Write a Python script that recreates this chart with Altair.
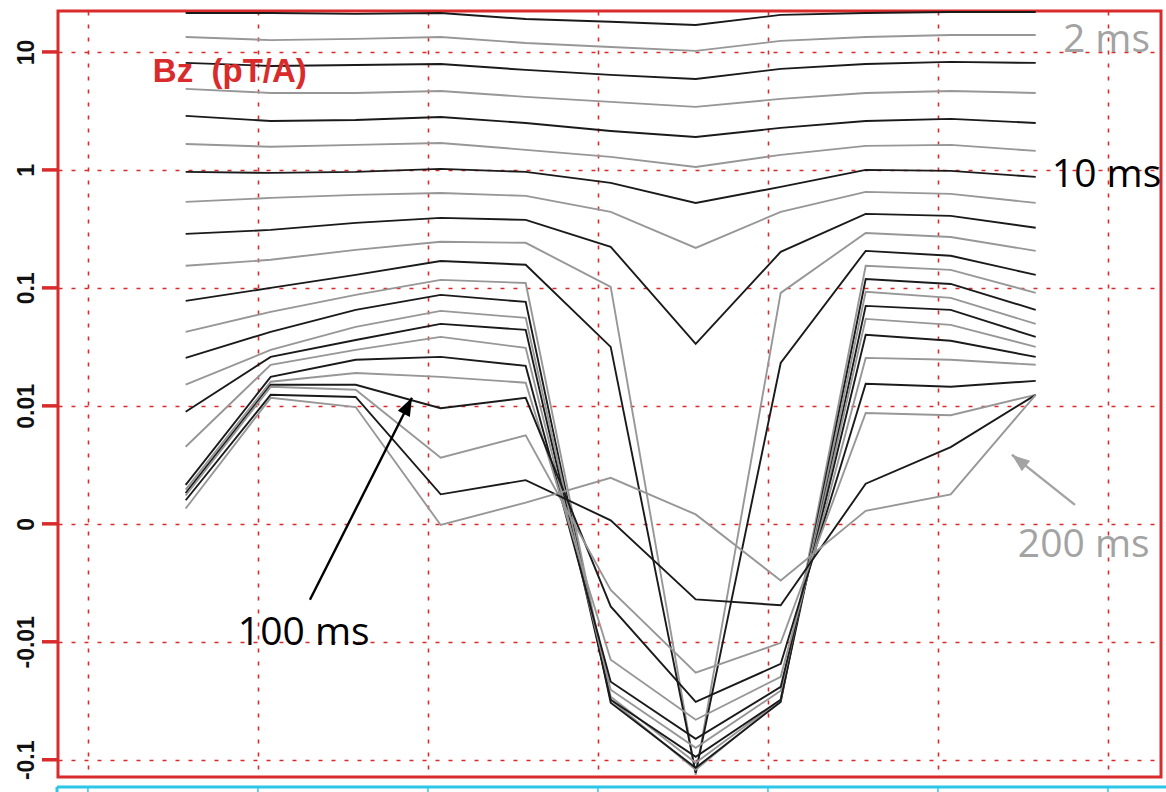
import altair as alt
import pandas as pd

# ---------------- data (Bz in pT/A) ----------------
stations_m = [57.5, 107.5, 157.5, 207.5, 257.5, 307.5, 357.5, 407.5, 457.5, 507.5, 557.5]
grid_x_m = [0, 100, 200, 300, 400, 500, 600]

bz_01 = [21.4, 21.4, 21.0, 21.4, 19.0, 18.0, 16.9, 20.6, 21.4, 21.8, 21.8]
bz_02 = [13.4, 12.6, 12.9, 13.4, 11.9, 11.0, 10.2, 12.4, 13.4, 13.9, 13.9]
bz_03 = [8.07, 7.61, 7.76, 7.91, 7.04, 6.39, 5.90, 7.18, 7.91, 8.23, 8.07]
bz_04 = [4.86, 4.49, 4.49, 4.67, 4.16, 3.77, 3.42, 4.00, 4.49, 4.67, 4.49]
bz_05 = [2.87, 2.60, 2.65, 2.81, 2.50, 2.14, 1.90, 2.27, 2.60, 2.71, 2.50]
bz_06 = [1.66, 1.57, 1.63, 1.69, 1.48, 1.29, 1.06, 1.34, 1.60, 1.63, 1.45]
bz_07 = [0.962, 0.943, 0.962, 1.02, 0.962, 0.776, 0.525, 0.718, 1.0, 0.981, 0.872]
bz_08 = [0.536, 0.579, 0.614, 0.638, 0.602, 0.441, 0.218, 0.441, 0.651, 0.626, 0.525]
bz_09 = [0.287, 0.310, 0.356, 0.392, 0.377, 0.223, 0.0335, 0.202, 0.424, 0.408, 0.323]
bz_10 = [0.154, 0.173, 0.210, 0.246, 0.241, 0.102, -0.134, 0.0907, 0.292, 0.270, 0.206]
bz_11 = [0.0776, 0.100, 0.129, 0.169, 0.157, 0.0316, -0.129, 0.0231, 0.206, 0.187, 0.129]
bz_12 = [0.0424, 0.0626, 0.0872, 0.117, 0.110, -0.0310, -0.1215, -0.0310, 0.154, 0.142, 0.0907]
bz_13 = [0.0255, 0.0424, 0.0651, 0.0872, 0.0761, -0.0329, -0.117, -0.0323, 0.119, 0.108, 0.0651]
bz_14 = [0.0151, 0.0298, 0.0467, 0.0638, 0.0557, -0.0292, -0.106, -0.0310, 0.0925, 0.0823, 0.0495]
bz_15 = [0.0095, 0.0260, 0.0362, 0.0495, 0.0441, -0.0310, -0.0943, -0.0310, 0.0704, 0.0651, 0.0384]
bz_16 = [0.00653, 0.0223, 0.0298, 0.0384, 0.0310, -0.0255, -0.0791, -0.0260, 0.0546, 0.0486, 0.0316]
bz_17 = [0.0033, 0.0176, 0.0246, 0.0260, 0.0218, -0.0218, -0.0664, -0.0241, 0.0400, 0.0356, 0.0260]
bz_18 = [0.0029, 0.0160, 0.0190, 0.0176, 0.0157, -0.0142, -0.0458, -0.0198, 0.0255, 0.0246, 0.0223]
bz_19 = [0.0026, 0.0151, 0.0151, 0.0098, 0.0117, -0.0070, -0.0323, -0.0154, 0.0154, 0.0145, 0.0163]
bz_20 = [0.0024, 0.0145, 0.0137, 0.0056, 0.0075, -0.0056, -0.0183, -0.0102, 0.0094, 0.0092, 0.0124]
bz_21 = [0.0020, 0.0124, 0.0119, 0.0025, 0.0037, 0.0003, -0.0064, -0.0069, 0.0034, 0.0065, 0.0124]
bz_22 = [0.0013, 0.0117, 0.0099, -0.0001, 0.0018, 0.0039, 0.0008, -0.0048, 0.0011, 0.0025, 0.0124]

profiles = [bz_01, bz_02, bz_03, bz_04, bz_05, bz_06, bz_07, bz_08, bz_09, bz_10, bz_11,
            bz_12, bz_13, bz_14, bz_15, bz_16, bz_17, bz_18, bz_19, bz_20, bz_21, bz_22]
shades = ["#1a1a1a", "#979797"]

tick_values = [-2, -1, 0, 1, 2, 3, 4]
tick_labels = ["-0.1", "-0.01", "0", "0.01", "0.1", "1", "10"]

ann_text = ["2 ms", "10 ms", "200 ms", "100 ms"]
ann_x = [573.5, 567.0, 547.0, 88.2]
ann_bz = [10.0, 0.718, -0.0028, -0.0106]
ann_color = ["#a3a3a3", "#000000", "#a3a3a3", "#000000"]

arrow_x_tail = [130.6, 580.6]
arrow_bz_tail = [-0.00644, 0.00161]
arrow_x_tip = [190.6, 543.5]
arrow_bz_tip = [0.0117, 0.00585]
arrow_color = ["#000000", "#a3a3a3"]
arrow_angle = [26.8, 308.4]

# ---------------- tables ----------------
rows = []
for i, prof in enumerate(profiles):
    for x, v in zip(stations_m, prof):
        rows.append({"gate": i + 1, "x": x, "bz": v, "shade": shades[i % 2]})
df = pd.DataFrame(rows)

ann_df = pd.DataFrame({"text": ann_text, "x": ann_x, "bz": ann_bz, "color": ann_color})
arrow_df = pd.DataFrame({"x": arrow_x_tail, "bz": arrow_bz_tail, "x2": arrow_x_tip,
                         "bz2": arrow_bz_tip, "color": arrow_color, "angle": arrow_angle})
title_df = pd.DataFrame({"text": ["Bz\u00a0\u00a0(pT/A)"], "x": [38.2], "bz": [5.57]})
grid_df = pd.DataFrame({"gx": grid_x_m})
tick_df = pd.DataFrame({"tv": tick_values})
one_df = pd.DataFrame({"k": [0]})


def tr(f):
    return (f"abs(datum.{f}) >= 0.01 ? (datum.{f} > 0 ? 1 : -1) * (log(abs(datum.{f})) / LN10 + 3)"
            f" : datum.{f} * 100")


label_expr = " : ".join(f"datum.value == {v} ? '{t}'" for v, t in zip(tick_values, tick_labels)) + " : ''"

RED = "#d92b2b"
W, H = 1103, 766
xs = alt.Scale(domain=[-17.6, 631.2], nice=False, zero=False)
ys = alt.Scale(domain=[-2.146, 4.347], nice=False, zero=False)

X_AXIS = alt.Axis(values=grid_x_m, labels=False, ticks=False, domain=False, title=None,
                  grid=True, gridColor=RED, gridDash=[4, 9], gridWidth=1.6)
Y_AXIS = alt.Axis(values=tick_values, labelExpr=label_expr, title=None, domain=False,
                  grid=True, gridColor=RED, gridDash=[4, 9], gridWidth=1.6,
                  ticks=False,
                  labelAngle=270, labelAlign="center", labelBaseline="bottom",
                  labelPadding=20, labelFont="Liberation Sans", labelFontSize=23,
                  labelFontWeight="bold", labelColor="#111111")


def X(f):
    return alt.X(f, scale=xs, axis=X_AXIS)


def Y(f):
    return alt.Y(f, scale=ys, axis=Y_AXIS)


lines = alt.Chart(df).transform_calculate(t=tr("bz")).mark_line(strokeWidth=1.9, clip=True).encode(
    x=X("x:Q"), y=Y("t:Q"),
    detail="gate:N",
    color=alt.Color("shade:N", scale=None),
    order="x:Q",
)

y_ticks = alt.Chart(tick_df).mark_tick(
    color=RED, orient="horizontal", size=16, thickness=3.5, opacity=1).encode(
    y=Y("tv:Q"), x=alt.value(-8))

title_txt = alt.Chart(title_df).transform_calculate(t=tr("bz")).mark_text(
    align="left", baseline="alphabetic", font="Liberation Sans", fontSize=33,
    fontWeight="bold", color=RED).encode(x=X("x:Q"), y=Y("t:Q"), text="text:N")

ann = alt.Chart(ann_df).transform_calculate(t=tr("bz")).mark_text(
    align="left", baseline="alphabetic", font="Open Sans", fontSize=39).encode(
    x=X("x:Q"), y=Y("t:Q"), text="text:N", color=alt.Color("color:N", scale=None))

arrow_lines = alt.Chart(arrow_df).transform_calculate(t=tr("bz"), t2=tr("bz2")).mark_rule(
    strokeWidth=2.4).encode(
    x=X("x:Q"), y=Y("t:Q"), x2="x2:Q", y2="t2:Q", color=alt.Color("color:N", scale=None))

arrow_heads = alt.Chart(arrow_df).transform_calculate(t2=tr("bz2")).mark_point(
    filled=True, opacity=1, shape="M0,0L0.75,2L-0.75,2Z", size=324, strokeWidth=0).encode(
    x=X("x2:Q"), y=Y("t2:Q"),
    angle=alt.Angle("angle:Q", scale=None), color=alt.Color("color:N", scale=None))

cyan = "#2cc6e8"
cyan_top = alt.Chart(one_df).mark_rule(color=cyan, strokeWidth=3).encode(
    x=alt.value(-1), x2=alt.value(W + 10), y=alt.value(H + 10))
cyan_ticks = alt.Chart(grid_df).mark_rule(color=cyan, strokeWidth=1.5).encode(
    x=X("gx:Q"), y=alt.value(H + 10), y2=alt.value(H + 30))
cyan_left = alt.Chart(one_df).mark_rule(color=cyan, strokeWidth=3).encode(
    x=alt.value(-1), y=alt.value(H + 10), y2=alt.value(H + 30))

chart = alt.layer(lines, y_ticks, title_txt, ann, arrow_lines, arrow_heads,
                  cyan_top, cyan_ticks, cyan_left).properties(
    width=W, height=H,
    autosize=alt.AutoSizeParams(type="none"),
    padding={"left": 58, "top": 11, "right": 5, "bottom": 15},
    background="white",
).configure_view(stroke=RED, strokeWidth=3)

chart.save("out.html", embed_options={"renderer": "svg", "actions": False})
